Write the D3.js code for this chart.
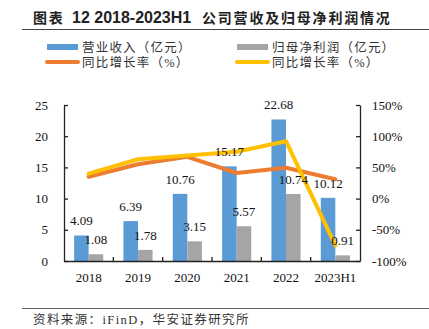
<!DOCTYPE html>
<html>
<head>
<meta charset="utf-8">
<script src="https://cdn.jsdelivr.net/npm/d3@7"></script>
<style>
  body { margin: 0; background: #fff; }
  svg { display: block; }
</style>
</head>
<body>
<svg id="chart" width="429" height="329"></svg>
<script>
var categories = ['2018', '2019', '2020', '2021', '2022', '2023H1'];
var revenue = [4.09, 6.39, 10.76, 15.17, 22.68, 10.12];
var netProfit = [1.08, 1.78, 3.15, 5.57, 10.74, 0.91];
var revenueGrowth = [0.35, 0.55, 0.67, 0.41, 0.495, 0.31];
var profitGrowth = [0.40, 0.63, 0.69, 0.75, 0.92, -0.75];
var leftTicks = [0, 5, 10, 15, 20, 25];
var rightTicks = [-1, -0.5, 0, 0.5, 1, 1.5];

var blue = '#5B9BD5', gray = '#A5A5A5', orange = '#ED7D31', yellow = '#FFC000';
var serif = '"Liberation Serif", "Times New Roman", serif';
var cjk = '"Noto Sans CJK SC", sans-serif';
var mixed = '"Liberation Serif", "Noto Sans CJK SC", serif';

var svg = d3.select('#chart');

var plot = { left: 64, right: 360, top: 105, bottom: 261 };

var x = d3.scaleBand()
  .domain(categories)
  .range([plot.left, plot.right]);
var yLeft = d3.scaleLinear()
  .domain([0, 25])
  .range([plot.bottom, plot.top]);
var yRight = d3.scaleLinear()
  .domain([-1, 1.5])
  .range([plot.bottom, plot.top]);

var barW = x.bandwidth() * 0.295;

// title, three pieces placed like the original
var title = svg.append('text')
  .attr('y', 23)
  .style('font-weight', 'bold')
  .attr('fill', '#222');
title.append('tspan')
  .attr('x', 33)
  .style('font-family', cjk)
  .style('font-size', '14px')
  .style('letter-spacing', '1.8px')
  .text('图表');
title.append('tspan')
  .attr('x', 72)
  .style('font-family', '"Liberation Sans", Arial, sans-serif')
  .style('font-size', '16px')
  .text('12 2018-2023H1');
title.append('tspan')
  .attr('x', 202)
  .style('font-family', cjk)
  .style('font-size', '14px')
  .style('letter-spacing', '1.8px')
  .text('公司营收及归母净利润情况');
svg.append('line')
  .attr('x1', 22).attr('x2', 429)
  .attr('y1', 29.5).attr('y2', 29.5)
  .attr('stroke', '#444').attr('stroke-width', 1.2);

// legend
var legend = [
  { label: '营业收入（亿元）', color: blue, kind: 'rect', x: 47, y: 47 },
  { label: '归母净利润（亿元）', color: gray, kind: 'rect', x: 237, y: 47 },
  { label: '同比增长率（%）', color: orange, kind: 'line', x: 47, y: 62 },
  { label: '同比增长率（%）', color: yellow, kind: 'line', x: 237, y: 62 }
];
legend.forEach(function (d) {
  if (d.kind === 'rect') {
    svg.append('rect')
      .attr('x', d.x).attr('y', d.y - 3)
      .attr('width', 31).attr('height', 6)
      .attr('fill', d.color);
  } else {
    svg.append('line')
      .attr('x1', d.x).attr('x2', d.x + 31)
      .attr('y1', d.y).attr('y2', d.y)
      .attr('stroke', d.color).attr('stroke-width', 4)
      .attr('stroke-linecap', 'round');
  }
  svg.append('text')
    .attr('x', d.x + 35)
    .attr('y', d.y)
    .attr('dy', '0.36em')
    .style('font-family', mixed)
    .style('font-size', '12.5px')
    .style('letter-spacing', '1.2px')
    .attr('fill', '#333')
    .text(d.label);
});

// bars
svg.selectAll('.rev')
  .data(revenue)
  .enter()
  .append('rect')
  .attr('x', function (d, i) { return x(categories[i]) + x.bandwidth() / 2 - barW; })
  .attr('y', function (d) { return yLeft(d); })
  .attr('width', barW)
  .attr('height', function (d) { return yLeft(0) - yLeft(d); })
  .attr('fill', blue);
svg.selectAll('.np')
  .data(netProfit)
  .enter()
  .append('rect')
  .attr('x', function (d, i) { return x(categories[i]) + x.bandwidth() / 2; })
  .attr('y', function (d) { return yLeft(d); })
  .attr('width', barW)
  .attr('height', function (d) { return yLeft(0) - yLeft(d); })
  .attr('fill', gray);

// growth lines
var lineFn = d3.line()
  .x(function (d, i) { return x(categories[i]) + x.bandwidth() / 2; })
  .y(function (d) { return yRight(d); });
svg.append('path')
  .datum(revenueGrowth)
  .attr('d', lineFn)
  .attr('fill', 'none')
  .attr('stroke', orange)
  .attr('stroke-width', 4)
  .attr('stroke-linejoin', 'round')
  .attr('stroke-linecap', 'round');
svg.append('path')
  .datum(profitGrowth)
  .attr('d', lineFn)
  .attr('fill', 'none')
  .attr('stroke', yellow)
  .attr('stroke-width', 4)
  .attr('stroke-linejoin', 'round')
  .attr('stroke-linecap', 'round');

// axes
var xAxis = d3.axisBottom(x).tickSize(0).tickPadding(12);
var leftAxis = d3.axisLeft(yLeft).tickValues(leftTicks).tickSizeInner(-4).tickSizeOuter(0).tickPadding(16);
var rightAxis = d3.axisRight(yRight).tickValues(rightTicks).tickSizeInner(-4).tickSizeOuter(0).tickPadding(12)
  .tickFormat(function (d) { return Math.round(d * 100) + '%'; });

function styleAxis(g) {
  g.select('.domain').attr('stroke', '#222').attr('stroke-width', 1.3);
  g.selectAll('.tick line').attr('stroke', '#222').attr('stroke-width', 1.3);
  g.selectAll('text')
    .style('font-family', serif)
    .style('font-size', '13px')
    .attr('fill', '#111');
}

svg.append('g')
  .attr('transform', 'translate(0,' + plot.bottom + ')')
  .call(xAxis)
  .call(styleAxis);
// category separator ticks on the x axis
svg.selectAll('.sep')
  .data(categories.slice(1))
  .enter()
  .append('line')
  .attr('x1', function (d) { return x(d); })
  .attr('x2', function (d) { return x(d); })
  .attr('y1', plot.bottom)
  .attr('y2', plot.bottom - 4)
  .attr('stroke', '#222')
  .attr('stroke-width', 1.3);

svg.append('g')
  .attr('transform', 'translate(' + plot.left + ',0)')
  .call(leftAxis)
  .call(styleAxis);
svg.append('g')
  .attr('transform', 'translate(' + plot.right + ',0)')
  .call(rightAxis)
  .call(styleAxis);

// data labels
function addLabels(values, offset) {
  svg.selectAll(null)
    .data(values)
    .enter()
    .append('text')
    .attr('x', function (d, i) { return x(categories[i]) + x.bandwidth() / 2 + offset; })
    .attr('y', function (d) { return yLeft(d) - 10; })
    .attr('text-anchor', 'middle')
    .style('font-family', serif)
    .style('font-size', '13px')
    .attr('fill', '#111')
    .text(function (d) { return d.toFixed(2); });
}
addLabels(revenue, -barW / 2);
addLabels(netProfit, barW / 2);

// source
svg.append('line')
  .attr('x1', 22).attr('x2', 429)
  .attr('y1', 308.5).attr('y2', 308.5)
  .attr('stroke', '#666').attr('stroke-width', 1);
svg.append('text')
  .attr('x', 33)
  .attr('y', 324)
  .style('font-family', mixed)
  .style('font-size', '12.5px')
  .style('letter-spacing', '1.4px')
  .attr('fill', '#333')
  .text('资料来源：iFinD，华安证券研究所');
</script>
</body>
</html>
